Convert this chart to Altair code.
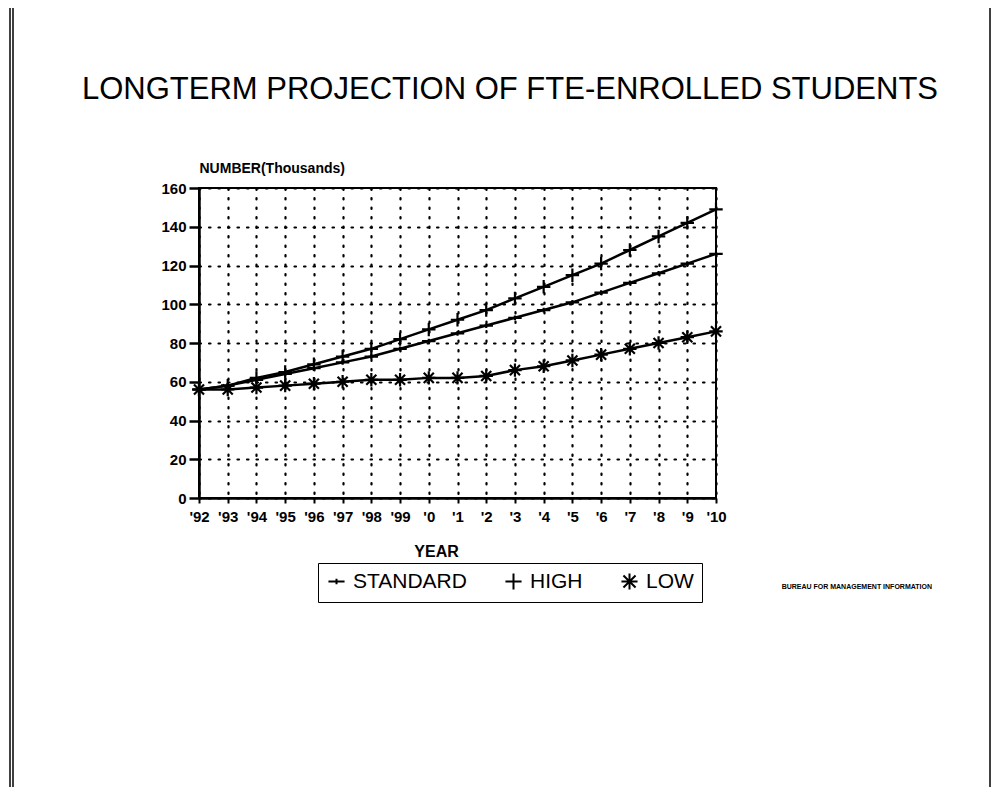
import altair as alt
import pandas as pd

years = ["'92", "'93", "'94", "'95", "'96", "'97", "'98", "'99", "'0", "'1",
         "'2", "'3", "'4", "'5", "'6", "'7", "'8", "'9", "'10"]
standard = [56, 58, 61, 64, 67, 70, 73, 77, 81, 85, 89, 93, 97, 101, 106, 111, 116, 121, 126]
high = [56, 58, 62, 65, 69, 73, 77, 82, 87, 92, 97, 103, 109, 115, 121, 128, 135, 142, 149]
low = [56, 56, 57, 58, 59, 60, 61, 61, 62, 62, 63, 66, 68, 71, 74, 77, 80, 83, 86]
series = ["STANDARD", "HIGH", "LOW"]
y_ticks = [0, 20, 40, 60, 80, 100, 120, 140, 160]

rows = []
for name, vals in zip(series, [standard, high, low]):
    for yr, v in zip(years, vals):
        rows.append({"year": yr, "value": v, "series": name})
df = pd.DataFrame(rows)

FONT = "Liberation Sans"
W, H = 517, 310
PL, PT = 191, 180

shapes = [
    "M-1,0H1M0,-0.35V0.35",
    "M-1,0H1M0,-1V1",
    "M-1,0H1M0,-1V1M-0.75,-0.75L0.75,0.75M-0.75,0.75L0.75,-0.75",
]

x_enc = alt.X("year:O", sort=years, scale=alt.Scale(type="point", padding=0),
              axis=alt.Axis(title="YEAR", labelAngle=0, grid=True,
                            gridDash=[1.5, 8], gridColor="black", gridWidth=2.2,
                            gridCap="round", tickSize=5, tickColor="black", tickWidth=2,
                            domainColor="black", domainWidth=2.5, labelOverlap=False,
                            labelFont=FONT, labelFontSize=15, labelFontWeight="bold",
                            labelColor="black", labelPadding=6,
                            titleFont=FONT, titleFontSize=16, titleFontWeight="bold",
                            titleColor="black", titlePadding=19, titleX=237))
y_enc = alt.Y("value:Q", scale=alt.Scale(domain=[0, 160], nice=False),
              axis=alt.Axis(title="NUMBER(Thousands)", values=y_ticks, tickCount=9,
                            labelOverlap=False, grid=True,
                            gridDash=[1.5, 8], gridColor="black", gridWidth=2.2,
                            gridCap="round", tickSize=10, tickColor="black", tickWidth=2.5,
                            domainColor="black", domainWidth=2.5,
                            labelFont=FONT, labelFontSize=15, labelFontWeight="bold",
                            labelColor="black", labelPadding=3,
                            titleFont=FONT, titleFontSize=14, titleFontWeight="bold",
                            titleColor="black", titleAngle=0, titleAlign="left",
                            titleX=0, titleY=-16, titleBaseline="alphabetic"))

base = alt.Chart(df)
lines = base.mark_line(color="black", strokeWidth=2.5).encode(
    x=x_enc, y=y_enc, detail="series:N")
points = base.mark_point(filled=False, color="black", strokeWidth=2.2, size=180, opacity=1).encode(
    x=alt.X("year:O", sort=years), y="value:Q",
    shape=alt.Shape("series:N", sort=series,
                    scale=alt.Scale(domain=series, range=shapes),
                    legend=alt.Legend(title=None, orient="none", direction="horizontal",
                                      legendX=119, legendY=375, gridAlign="none",
                                      strokeColor="black", padding=8,
                                      labelFont=FONT, labelFontSize=21,
                                      labelColor="black", labelOffset=6,
                                      columnPadding=34, symbolSize=260,
                                      symbolStrokeColor="black", symbolStrokeWidth=2,
                                      symbolFillColor="transparent")))

one = alt.Data(values=[{"k": 1}])
title = alt.Chart(one).mark_text(text="LONGTERM PROJECTION OF FTE-ENROLLED STUDENTS",
                                 font=FONT, fontSize=31, color="black",
                                 align="center", baseline="middle").encode(
    x=alt.value(311), y=alt.value(-98))
credit = alt.Chart(one).mark_text(text="BUREAU FOR MANAGEMENT INFORMATION",
                                  font=FONT, fontSize=7, fontWeight="bold", color="black",
                                  align="right", baseline="middle").encode(
    x=alt.value(733), y=alt.value(399))
frame_top = alt.Chart(one).mark_rule(color="black", strokeWidth=3).encode(
    x=alt.value(-190), x2=alt.value(792), y=alt.value(-183))
frame_left1 = alt.Chart(one).mark_rule(color="black", strokeWidth=1.5).encode(
    x=alt.value(-189), y=alt.value(-183), y2=alt.value(600))
frame_left2 = alt.Chart(one).mark_rule(color="black", strokeWidth=1.5).encode(
    x=alt.value(-186), y=alt.value(-183), y2=alt.value(600))
frame_right = alt.Chart(one).mark_rule(color="black", strokeWidth=1.5).encode(
    x=alt.value(791), y=alt.value(-183), y2=alt.value(600))

chart = alt.layer(lines, points, title, credit, frame_top, frame_left1, frame_left2,
                  frame_right).properties(
    width=W, height=H,
    autosize=alt.AutoSizeParams(type="none"),
    padding={"left": PL, "top": PT, "right": 276, "bottom": 289},
).configure_view(stroke="black", strokeWidth=2)

chart.save("out.html", embed_options={"renderer": "svg", "actions": False})
